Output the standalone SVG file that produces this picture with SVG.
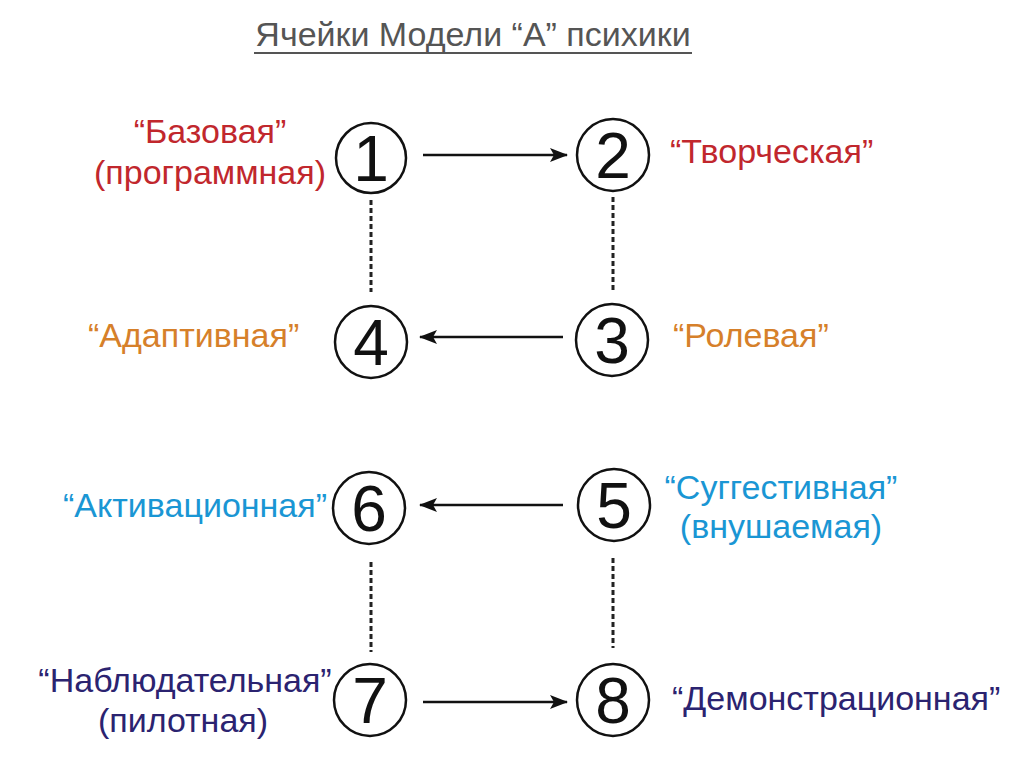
<svg xmlns="http://www.w3.org/2000/svg" width="1025" height="765" viewBox="0 0 1025 765">
<defs>
<style>
.t{font-family:"Liberation Sans",Arial,sans-serif;font-size:34px}
.title{fill:#555;font-size:34px}
.red{fill:#c1272d}
.org{fill:#d6802a}
.blu{fill:#1a96d4}
.nav{fill:#2b2370}
.c{fill:#fff;stroke:#111;stroke-width:2.5}
.n{font-family:"Liberation Sans",Arial,sans-serif;font-size:64px;fill:#111;text-anchor:middle}
.a{stroke:#111;stroke-width:2.5;fill:none}
.d{stroke:#222;stroke-width:3;stroke-dasharray:5,3;fill:none}
</style>
<marker id="ah" viewBox="0 0 18 14" refX="17" refY="7" markerWidth="18" markerHeight="14" markerUnits="userSpaceOnUse" orient="auto">
<path d="M0,0 L18,7 L0,14 L4,7 Z" fill="#111"/>
</marker>
</defs>
<rect width="1025" height="765" fill="#fff"/>
<g id="title">
<text class="t title" x="473" y="46" text-anchor="middle">Ячейки Модели “А” психики</text>
<line x1="254" y1="53" x2="692" y2="53" stroke="#555" stroke-width="2"/>
</g>
<g id="connectors">
<line class="a" x1="423" y1="155" x2="567" y2="155" marker-end="url(#ah)"/>
<line class="a" x1="563" y1="337" x2="420" y2="337" marker-end="url(#ah)"/>
<line class="a" x1="563" y1="505" x2="420" y2="505" marker-end="url(#ah)"/>
<line class="a" x1="423" y1="702" x2="567" y2="702" marker-end="url(#ah)"/>
<line class="d" x1="371" y1="200" x2="371" y2="292"/>
<line class="d" x1="613" y1="197" x2="613" y2="290"/>
<line class="d" x1="371" y1="562" x2="371" y2="652"/>
<line class="d" x1="613" y1="558" x2="613" y2="648"/>
</g>
<g id="node1">
<circle class="c" cx="371" cy="158" r="35"/>
<text class="n" x="371" y="181">1</text>
<text class="t red" x="210" y="143" text-anchor="middle">“Базовая”</text>
<text class="t red" x="210" y="184" text-anchor="middle">(программная)</text>
</g>
<g id="node2">
<circle class="c" cx="613" cy="155" r="36"/>
<text class="n" x="613" y="178">2</text>
<text class="t red" x="670" y="163">“Творческая”</text>
</g>
<g id="node3">
<circle class="c" cx="612" cy="340" r="36"/>
<text class="n" x="612" y="363">3</text>
<text class="t org" x="673" y="347">“Ролевая”</text>
</g>
<g id="node4">
<circle class="c" cx="371" cy="342" r="36"/>
<text class="n" x="371" y="365">4</text>
<text class="t org" x="88" y="347">“Адаптивная”</text>
</g>
<g id="node5">
<circle class="c" cx="614" cy="505" r="36"/>
<text class="n" x="614" y="528">5</text>
<text class="t blu" x="781" y="499" text-anchor="middle">“Суггестивная”</text>
<text class="t blu" x="781" y="538" text-anchor="middle">(внушаемая)</text>
</g>
<g id="node6">
<circle class="c" cx="369" cy="508" r="36"/>
<text class="n" x="369" y="531">6</text>
<text class="t blu" x="63" y="517">“Активационная”</text>
</g>
<g id="node7">
<circle class="c" cx="370" cy="700" r="36"/>
<text class="n" x="370" y="723">7</text>
<text class="t nav" x="185" y="692" text-anchor="middle">“Наблюдательная”</text>
<text class="t nav" x="183" y="732" text-anchor="middle">(пилотная)</text>
</g>
<g id="node8">
<circle class="c" cx="613" cy="700" r="36"/>
<text class="n" x="613" y="723">8</text>
<text class="t nav" x="672" y="710">“Демонстрационная”</text>
</g>
</svg>
